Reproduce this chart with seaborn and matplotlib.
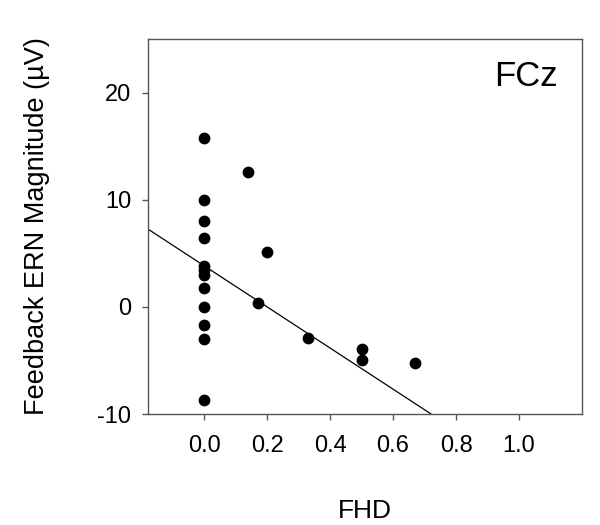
import matplotlib
matplotlib.use("Agg")
import matplotlib.pyplot as plt
import seaborn as sns
import numpy as np
import pandas as pd

# FHD (x) vs feedback ERN magnitude (y)
fhd = [0.0, 0.0, 0.0, 0.0, 0.0, 0.0, 0.0, 0.0, 0.0, 0.0, 0.0, 0.0,
       0.14, 0.2, 0.17, 0.33, 0.5, 0.5, 0.67]
ern = [15.8, 10.0, 8.0, 6.4, 3.8, 3.4, 3.0, 1.75, 0.0, -1.7, -3.0, -8.7,
       12.55, 5.14, 0.4, -2.87, -3.96, -4.92, -5.23]

# regression line as drawn in the figure
fit_intercept = 3.84
fit_slope = -19.2

x_ticks = [0.0, 0.2, 0.4, 0.6, 0.8, 1.0]
y_ticks = [-10, 0, 10, 20]
panel = "FCz"


def set_style():
	sns.set_style("ticks")
	plt.rcParams['font.family'] = ['Liberation Sans', 'DejaVu Sans']
	plt.rcParams['axes.edgecolor'] = '#555555'
	plt.rcParams['axes.linewidth'] = 1.0
	plt.rcParams['axes.unicode_minus'] = False
	plt.rcParams['text.color'] = 'black'
	plt.rcParams['axes.labelcolor'] = 'black'


def make_plot():
	df = pd.DataFrame({"FHD": fhd, "ERN": ern})

	fig = plt.figure(figsize=(6, 5.25), dpi=100)
	ax = fig.add_axes([0.2467, 0.2114, 0.7233, 0.7143])

	sns.scatterplot(data=df, x="FHD", y="ERN", ax=ax, color="black",
		s=72, edgecolor="black", linewidth=0, zorder=3)
	ax.axline((0, fit_intercept), slope=fit_slope, color="black", lw=0.9, zorder=2)

	ax.set_xlim(-0.178, 1.2)
	ax.set_ylim(-10, 25)
	ax.set_xticks(x_ticks)
	ax.set_xticklabels(["%.1f" % t for t in x_ticks])
	ax.set_yticks(y_ticks)
	ax.tick_params(axis="both", direction="out", length=4, width=1,
		color="#555555", labelsize=17, labelcolor="black")
	ax.tick_params(axis="x", pad=11)
	ax.tick_params(axis="y", pad=8)

	ax.set_xlabel("FHD", fontsize=19, labelpad=30)
	ax.set_ylabel("Feedback ERN Magnitude (µV)", fontsize=19.5, labelpad=34)
	ax.text(0.945, 0.945, panel, transform=ax.transAxes, ha="right", va="top",
		fontsize=25)

	for s in ax.spines.values():
		s.set_visible(True)

	fig.savefig("out.png", dpi=100)


if __name__ == '__main__':
	set_style()
	make_plot()
